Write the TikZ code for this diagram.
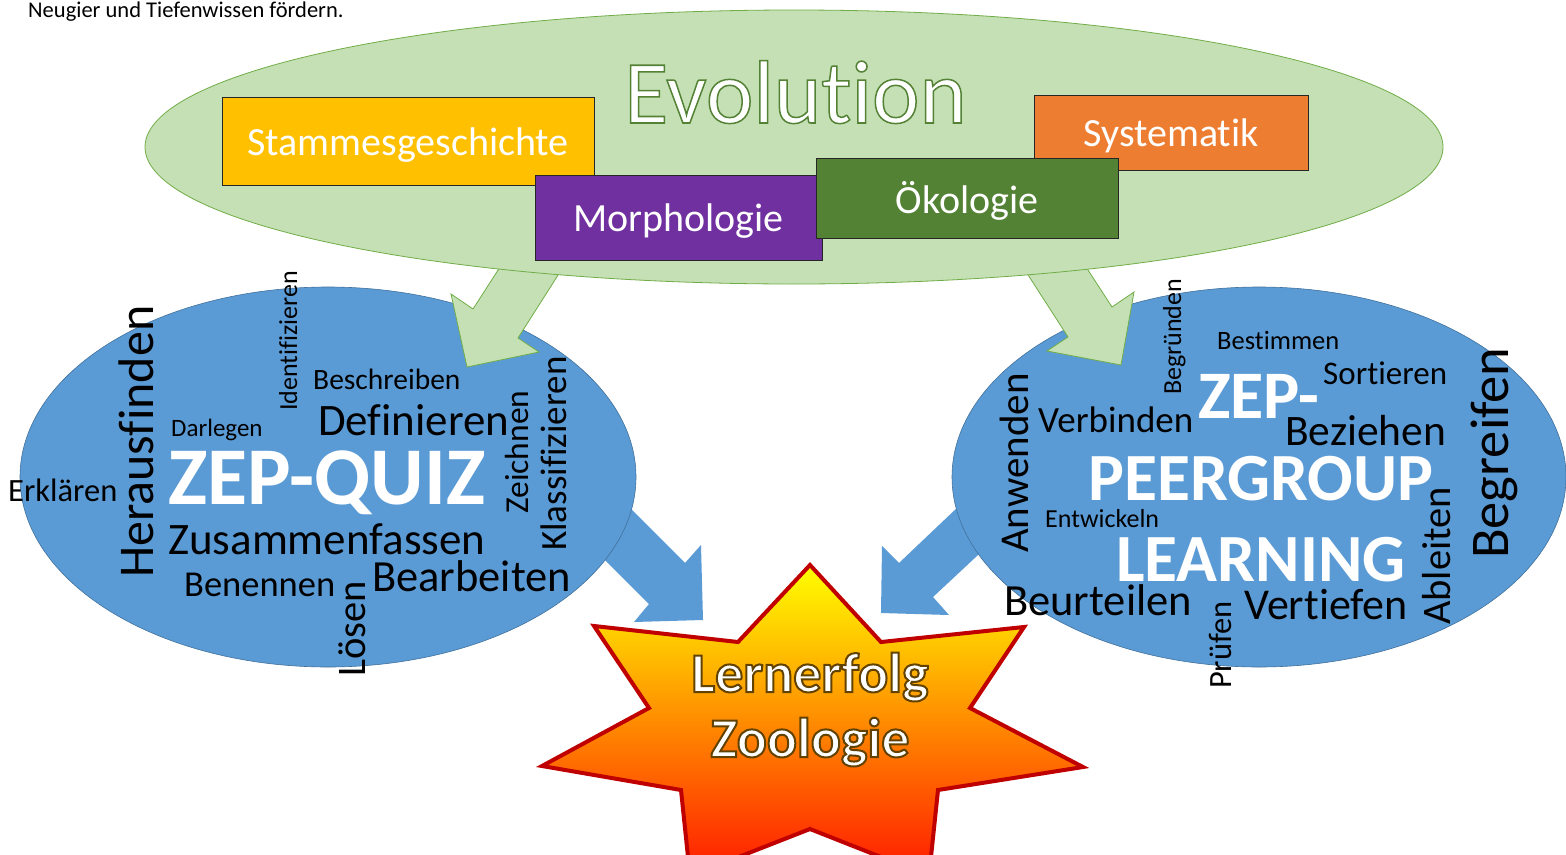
\documentclass[tikz,border=0pt]{standalone}
\usepackage{fontspec}
\setmainfont{Carlito}[Ligatures={TeX,NoCommon}]
\usetikzlibrary{shapes.geometric}
\definecolor{evofill}{HTML}{C5E0B4}
\definecolor{evoline}{HTML}{70AD47}
\definecolor{bluefill}{HTML}{5B9BD5}
\definecolor{blueline}{HTML}{41719C}
\definecolor{boxyellow}{HTML}{FFC000}
\definecolor{boxpurple}{HTML}{7030A0}
\definecolor{boxgreen}{HTML}{548235}
\definecolor{boxorange}{HTML}{ED7D31}
\definecolor{starline}{HTML}{C00000}
\newcommand\fsz[1]{\fontsize{#1}{#1}\selectfont}
% fill + stroke text: #1 line width, #2 stroke rgb, #3 text
\newcommand\strokedtext[3]{\special{pdf:literal direct 2 Tr #1 w #2 RG}#3\special{pdf:literal direct 0 Tr}}
\begin{document}
\begin{tikzpicture}[x=1pt,y=-1pt,
  word/.style={inner sep=0pt, anchor=base west, text=black},
  vword/.style={word, rotate=90},
  big/.style={word, text=white, font=\bfseries\fsz{#1}},
  topbox/.style={draw=black!85, line width=0.8pt, inner sep=0pt},
  boxtext/.style={inner sep=0pt, text=white, font=\fsz{40}},
  greenarrow/.style={fill=evofill, draw=evoline, line width=0.8pt, line join=miter},
  bluearrow/.style={fill=bluefill, draw=none}]
\clip (0,0) rectangle (1566,854);
\fill[white] (0,0) rectangle (1566,854);

% header text
\node[word, font=\fsz{22.5}] (head) at (28,17) {Neugier und Tiefenwissen fördern.};

% blue block arrows towards the star
\path[bluearrow] (620,498) -- (685,563) -- (701,545) -- (703,620) -- (634,622) -- (649,604) -- (584,539) -- cycle;
\path[bluearrow] (1000,467) -- (899,563) -- (882,546) -- (881,613) -- (949,615) -- (933,597) -- (1023,513) -- cycle;

% blue ellipses
\draw[fill=bluefill, draw=blueline, line width=0.6pt] (328,477) ellipse [x radius=308, y radius=190];
\draw[fill=bluefill, draw=blueline, line width=0.6pt] (1259,477) ellipse [x radius=307, y radius=190];

% green block arrows
\path[greenarrow] (511,250) -- (473,309) -- (451,294) -- (467,367) -- (539,352) -- (518,338) -- (574,250) -- cycle;
\path[greenarrow] (1012,250) -- (1068,337) -- (1047,351) -- (1121,365) -- (1134,292) -- (1112,307) -- (1075,250) -- cycle;

% green ellipse
\draw[fill=evofill, draw=evoline, line width=0.8pt] (794,147) ellipse [x radius=649, y radius=137];

% topic boxes
\node[topbox, fill=boxyellow, minimum width=372, minimum height=88] (stamm) at (408,141) {};
\node[boxtext] (stammt) at ([yshift=-4]stamm.center) {Stammesgeschichte};
\node[topbox, fill=boxpurple, minimum width=287, minimum height=85] (morph) at (678.5,217.5) {};
\node[boxtext] (morpht) at ([yshift=-4]morph.center) {Morphologie};
\node[topbox, fill=boxorange, minimum width=274, minimum height=75] (syst) at (1171,132.5) {};
\node[boxtext] (systt) at ([yshift=-3]syst.center) {Systematik};
\node[topbox, fill=boxgreen, minimum width=302, minimum height=80] (oeko) at (967,198) {};
\node[boxtext] (oekot) at ([yshift=-3]oeko.center) {Ökologie};

% title
\node[word, text=white, font=\fsz{90}] (evo) at (624,123)
  {\strokedtext{1.5}{0.329 0.510 0.208}{Evolution}};

% star
\shade[top color=yellow, middle color=orange!60!yellow, bottom color=red!90!yellow]
  (810,565) -- (881,642) -- (1024,627) -- (970,708) -- (1083,767) -- (938,790) -- (929,876)
  -- (810,829) -- (690,876) -- (681,790) -- (542,766) -- (649,708) -- (594,626) -- (738,642) -- cycle;
\draw[draw=starline, line width=4pt, line join=miter]
  (810,565) -- (881,642) -- (1024,627) -- (970,708) -- (1083,767) -- (938,790) -- (929,876)
  -- (810,829) -- (690,876) -- (681,790) -- (542,766) -- (649,708) -- (594,626) -- (738,642) -- cycle;
\node[inner sep=0pt, anchor=base, text=white, font=\bfseries\fsz{56}] (lern) at (810,692)
  {\strokedtext{2}{0.38 0.26 0.0}{Lernerfolg}};
\node[inner sep=0pt, anchor=base, text=white, font=\bfseries\fsz{56}] (zoo) at (810,757)
  {\strokedtext{2}{0.38 0.26 0.0}{Zoologie}};

% left word cloud
\node[vword, font=\fsz{50}] (w1) at (153,578) {Herausfinden};
\node[vword, font=\fsz{26}] (w2) at (297,411) {Identifizieren};
\node[word, font=\fsz{29.5}] (w3) at (313,389) {Beschreiben};
\node[word, font=\fsz{25}] (w4) at (171,436) {Darlegen};
\node[word, font=\fsz{45}] (w5) at (318,435) {Definieren};
\node[big=82] (w6) at (168,504) {ZEP-QUIZ};
\node[word, font=\fsz{32.5}] (w7) at (8,501) {Erklären};
\node[word, font=\fsz{45}] (w8) at (168,554) {Zusammenfassen};
\node[word, font=\fsz{36.5}] (w9) at (184,596) {Benennen};
\node[word, font=\fsz{44.5}] (w10) at (372,591) {Bearbeiten};
\node[vword, font=\fsz{40.5}] (w11) at (365,677) {Lösen};
\node[vword, font=\fsz{33.5}] (w12) at (528,514) {Zeichnen};
\node[vword, font=\fsz{37}] (w13) at (566,551) {Klassifizieren};

% right word cloud
\node[vword, font=\fsz{26}] (r1) at (1181,395) {Begründen};
\node[word, font=\fsz{26.5}] (r2) at (1217,349) {Bestimmen};
\node[word, font=\fsz{33}] (r3) at (1323,384) {Sortieren};
\node[big=68] (r4) at (1198,418) {ZEP-};
\node[word, font=\fsz{37}] (r5) at (1038,432) {Verbinden};
\node[vword, font=\fsz{41}] (r6) at (1028,553) {Anwenden};
\node[word, font=\fsz{43.5}] (r7) at (1285,445) {Beziehen};
\node[big=67.5] (r8) at (1088,500) {PEERGROUP};
\node[word, font=\fsz{26}] (r9) at (1045,527) {Entwickeln};
\node[big=67.5] (r10) at (1116,581) {LEARNING};
\node[vword, font=\fsz{40.5}] (r11) at (1450,625) {Ableiten};
\node[vword, font=\fsz{54.5}] (r12) at (1508,559) {Begreifen};
\node[word, font=\fsz{44.5}] (r13) at (1004,615) {Beurteilen};
\node[word, font=\fsz{44}] (r14) at (1244,619) {Vertiefen};
\node[vword, font=\fsz{32.5}] (r15) at (1231,689) {Prüfen};
\end{tikzpicture}
\end{document}
